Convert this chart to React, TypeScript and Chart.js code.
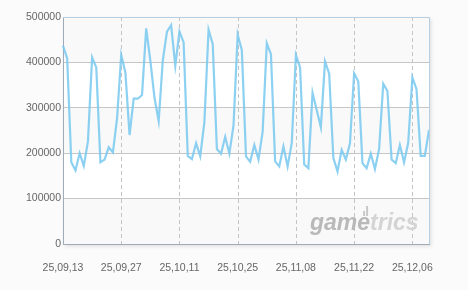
import React, { useEffect, useRef } from "react";
import { Chart, registerables } from "chart.js";

Chart.register(...registerables);

const categories = [
  "25,09,13","25,09,14","25,09,15","25,09,16","25,09,17","25,09,18","25,09,19",
  "25,09,20","25,09,21","25,09,22","25,09,23","25,09,24","25,09,25","25,09,26",
  "25,09,27","25,09,28","25,09,29","25,09,30","25,10,01","25,10,02","25,10,03",
  "25,10,04","25,10,05","25,10,06","25,10,07","25,10,08","25,10,09","25,10,10",
  "25,10,11","25,10,12","25,10,13","25,10,14","25,10,15","25,10,16","25,10,17",
  "25,10,18","25,10,19","25,10,20","25,10,21","25,10,22","25,10,23","25,10,24",
  "25,10,25","25,10,26","25,10,27","25,10,28","25,10,29","25,10,30","25,10,31",
  "25,11,01","25,11,02","25,11,03","25,11,04","25,11,05","25,11,06","25,11,07",
  "25,11,08","25,11,09","25,11,10","25,11,11","25,11,12","25,11,13","25,11,14",
  "25,11,15","25,11,16","25,11,17","25,11,18","25,11,19","25,11,20","25,11,21",
  "25,11,22","25,11,23","25,11,24","25,11,25","25,11,26","25,11,27","25,11,28",
  "25,11,29","25,11,30","25,12,01","25,12,02","25,12,03","25,12,04","25,12,05",
  "25,12,06","25,12,07","25,12,08","25,12,09","25,12,10",
];

const players = [
  437000, 409000, 180000, 162000, 200000, 172000, 226000,
  411000, 389000, 180000, 186000, 213000, 202000, 277000,
  416000, 378000, 240000, 320000, 320000, 328000, 475000,
  404000, 322000, 271000, 405000, 468000, 482000, 393000,
  468000, 444000, 194000, 187000, 222000, 193000, 269000,
  472000, 440000, 209000, 199000, 236000, 199000, 262000,
  461000, 427000, 193000, 181000, 218000, 186000, 247000,
  442000, 418000, 182000, 171000, 215000, 171000, 222000,
  416000, 389000, 175000, 167000, 333000, 295000, 257000,
  402000, 375000, 190000, 160000, 207000, 186000, 222000,
  376000, 358000, 178000, 167000, 199000, 165000, 209000,
  353000, 337000, 186000, 178000, 218000, 180000, 223000,
  367000, 341000, 194000, 194000, 251000,
];

const tickLabels = ["25,09,13","25,09,27","25,10,11","25,10,25","25,11,08","25,11,22","25,12,06"];

const yMin = 0;
const yMax = 500000;
const yStep = 100000;

export default function App() {
  const ref = useRef<HTMLCanvasElement>(null);

  useEffect(() => {
    document.body.style.margin = "0";
    document.body.style.background = "#fbfbfb";
    const canvas = ref.current;
    if (!canvas) return;

    const background = {
      id: "background",
      beforeDraw(chart: any) {
        const { ctx, chartArea: a, scales } = chart;
        const y = scales.y;
        ctx.save();
        ctx.fillStyle = "#fbfbfb";
        ctx.fillRect(0, 0, chart.width, chart.height);
        ctx.shadowColor = "rgba(0,0,0,0.13)";
        ctx.shadowBlur = 4;
        ctx.shadowOffsetX = 2;
        ctx.shadowOffsetY = 2;
        ctx.fillStyle = "#ffffff";
        ctx.fillRect(a.left, a.top, a.right - a.left, a.bottom - a.top);
        ctx.shadowColor = "transparent";
        for (let v = yMin; v < yMax; v += yStep) {
          const i = Math.round(v / yStep);
          const p0 = y.getPixelForValue(v);
          const p1 = y.getPixelForValue(v + yStep);
          ctx.fillStyle = i % 2 === 0 ? "#f9f9f9" : "#ffffff";
          ctx.fillRect(a.left, p1, a.right - a.left, p0 - p1);
        }
        ctx.restore();
      },
    };

    const vlines = {
      id: "vlines",
      beforeDatasetsDraw(chart: any) {
        const { ctx, chartArea: a, scales } = chart;
        const x = scales.x;
        ctx.save();
        ctx.strokeStyle = "#c4c4c4";
        ctx.lineWidth = 1;
        ctx.setLineDash([4, 3]);
        tickLabels.forEach((lab) => {
          const idx = categories.indexOf(lab);
          if (idx <= 0) return;
          const px = Math.round(x.getPixelForValue(idx)) + 0.5;
          ctx.beginPath();
          ctx.moveTo(px, a.top);
          ctx.lineTo(px, a.bottom);
          ctx.stroke();
        });
        ctx.restore();
      },
    };

    const watermark = {
      id: "watermark",
      beforeDatasetsDraw(chart: any) {
        const { ctx } = chart;
        ctx.save();
        ctx.font = "italic bold 23px 'Liberation Sans', Arial, sans-serif";
        ctx.textBaseline = "alphabetic";
        ctx.textAlign = "left";
        const x0 = 310;
        const base = 230;
        ctx.fillStyle = "#b9b9b9";
        ctx.fillText("game", x0, base);
        const w = ctx.measureText("game").width;
        ctx.fillStyle = "#d4d4d4";
        ctx.fillText("trics", x0 + w, base);
        ctx.fillStyle = "#c8c8c8";
        ctx.fillRect(x0 + w - 7, 211, 2, 5);
        ctx.fillRect(x0 + w - 4, 206, 2, 10);
        ctx.restore();
      },
    };

    const frame = {
      id: "frame",
      afterDraw(chart: any) {
        const { ctx, chartArea: a } = chart;
        ctx.save();
        ctx.strokeStyle = "#b7cfe3";
        ctx.lineWidth = 1;
        ctx.beginPath();
        ctx.moveTo(Math.round(a.left), Math.round(a.top) + 0.5);
        ctx.lineTo(Math.round(a.right) + 0.5, Math.round(a.top) + 0.5);
        ctx.lineTo(Math.round(a.right) + 0.5, Math.round(a.bottom));
        ctx.stroke();
        ctx.restore();
      },
    };

    const chart = new Chart(canvas, {
      type: "line",
      data: {
        labels: categories,
        datasets: [
          {
            data: players,
            borderColor: "rgba(120,200,240,0.85)",
            borderWidth: 2.2,
            pointRadius: 0,
            tension: 0,
            fill: false,
          },
        ],
      },
      options: {
        animation: false,
        responsive: false,
        devicePixelRatio: 1,
        layout: { padding: { top: 17, right: 39, left: 0, bottom: 0 } },
        plugins: { legend: { display: false }, tooltip: { enabled: false } },
        scales: {
          x: {
            type: "category",
            offset: false,
            afterFit(scale: any) {
              scale.height = 46;
            },
            grid: { display: false, drawTicks: false },
            border: { display: true, color: "#9eabb8", width: 1 },
            ticks: {
              autoSkip: false,
              maxRotation: 0,
              padding: 18,
              color: "#666666",
              font: { family: "'Liberation Sans', Arial, sans-serif", size: 10.5 },
              callback: (_v: any, i: number) =>
                tickLabels.includes(categories[i]) ? categories[i] : "",
            },
          },
          y: {
            min: yMin,
            max: yMax,
            afterFit(scale: any) {
              scale.width = 63;
            },
            grid: { drawTicks: false, color: "#c6c6c6", lineWidth: 1 },
            border: { color: "#9eabb8", width: 1 },
            ticks: {
              stepSize: yStep,
              padding: 2,
              color: "#666666",
              font: { family: "'Liberation Sans', Arial, sans-serif", size: 10.5 },
              callback: (v: any) => String(v),
            },
          },
        },
      },
      plugins: [background, vlines, watermark, frame],
    });

    return () => chart.destroy();
  }, []);

  return (
    <div style={{ width: 468, height: 290, background: "#fbfbfb" }}>
      <canvas ref={ref} width={468} height={290} style={{ display: "block" }} />
    </div>
  );
}
